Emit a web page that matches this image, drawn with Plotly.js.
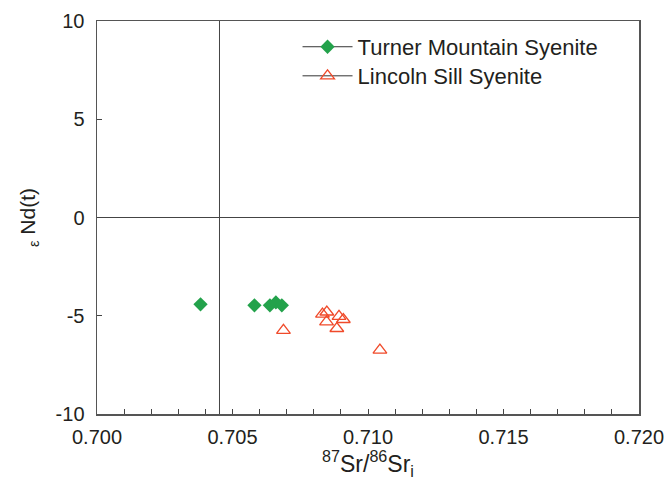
<!DOCTYPE html>
<html>
<head>
<meta charset="utf-8">
<script src="https://cdn.plot.ly/plotly-3.0.1.min.js"></script>
<style>html,body{margin:0;padding:0;background:#fff;}#chart{width:668px;height:486px;}</style>
</head>
<body>
<div id="chart"></div>
<script>
// Turner Mountain Syenite
const turnerSr = [0.70382, 0.70581, 0.70638, 0.70660, 0.70682];
const turnerNd = [-4.42, -4.47, -4.47, -4.32, -4.47];
// Lincoln Sill Syenite
const lincolnSr = [0.70688, 0.70832, 0.70848, 0.70847, 0.70893, 0.70909, 0.70885, 0.71044];
const lincolnNd = [-5.74, -4.92, -4.81, -5.31, -5.03, -5.19, -5.65, -6.75];
// reference line
const refSr = 0.70452;
const seriesNames = ['Turner Mountain Syenite', 'Lincoln Sill Syenite'];
// tick labels
const yTickVals = [-10, -5, 0, 5, 10];
const yTickText = ['-10', '-5', '0', '5', '10'];
const xTickVals = [0.700, 0.705, 0.710, 0.715, 0.720];
const xTickText = ['0.700', '0.705', '0.710', '0.715', '0.720'];

const green = '#23a24b';
const red = '#f04a2a';
const font = 'Liberation Sans, Arial, sans-serif';
const txt = '#231f20';

const data = [
  {x: turnerSr, y: turnerNd, mode: 'markers', type: 'scatter', showlegend: false,
   marker: {symbol: 'diamond', size: 11, color: green}},
  {x: lincolnSr, y: lincolnNd, mode: 'markers', type: 'scatter', showlegend: false,
   marker: {symbol: 'triangle-up-open', size: 12, color: red, line: {width: 1.3, color: red}}},
  {x: [null], y: [null], mode: 'lines+markers', type: 'scatter', name: seriesNames[0], legend: 'legend',
   line: {color: '#333', width: 1}, marker: {symbol: 'diamond', size: 11, color: green}},
  {x: [null], y: [null], mode: 'lines+markers', type: 'scatter', name: seriesNames[1], legend: 'legend2',
   line: {color: '#333', width: 1}, marker: {symbol: 'triangle-up-open', size: 12, color: red, line: {width: 1.3, color: red}}}
];

const legendBase = {
  xanchor: 'left', yanchor: 'middle',
  bgcolor: 'rgba(0,0,0,0)', borderwidth: 0,
  font: {size: 22, family: font, color: txt},
  itemwidth: 50
};

const layout = {
  width: 668, height: 486,
  margin: {l: 97, r: 29, t: 21, b: 72},
  paper_bgcolor: '#fff', plot_bgcolor: '#fff',
  font: {family: font, color: txt, size: 20},
  xaxis: {
    range: [0.700, 0.720], tickmode: 'array', tickvals: xTickVals, ticktext: xTickText,
    ticks: 'inside', ticklen: 5, tickcolor: '#444', tickwidth: 1,
    minor: {tick0: 0.700, dtick: 0.001, ticks: 'inside', ticklen: 5, tickcolor: '#444', tickwidth: 1},
    showline: true, linecolor: '#555', linewidth: 1.5, mirror: true,
    showgrid: false, zeroline: false, ticklabelstandoff: 4,
    tickfont: {size: 20, family: font, color: txt},
    title: {text: '<sup>87</sup>Sr/<sup>86</sup>Sr<sub>i</sub>', font: {size: 23, family: font, color: txt}, standoff: 6}
  },
  yaxis: {
    range: [-10, 10], tickmode: 'array', tickvals: yTickVals, ticktext: yTickText,
    ticks: 'inside', ticklen: 5, tickcolor: '#444', tickwidth: 1,
    showline: true, linecolor: '#555', linewidth: 1.5, mirror: true,
    showgrid: false, zeroline: true, zerolinecolor: '#444', zerolinewidth: 1,
    ticklabelstandoff: 7,
    tickfont: {size: 20, family: font, color: txt},
    title: {text: '<sub>ε</sub> Nd(t)', font: {size: 21, family: font, color: txt}, standoff: 14}
  },
  shapes: [
    {type: 'line', xref: 'x', yref: 'paper', x0: refSr, x1: refSr, y0: 0, y1: 1,
     line: {color: '#444', width: 1}}
  ],
  legend: Object.assign({x: 0.37, y: 0.934}, legendBase),
  legend2: Object.assign({x: 0.37, y: 0.860}, legendBase),
  showlegend: true
};

Plotly.newPlot('chart', data, layout, {displayModeBar: false, staticPlot: true});
</script>
</body>
</html>
